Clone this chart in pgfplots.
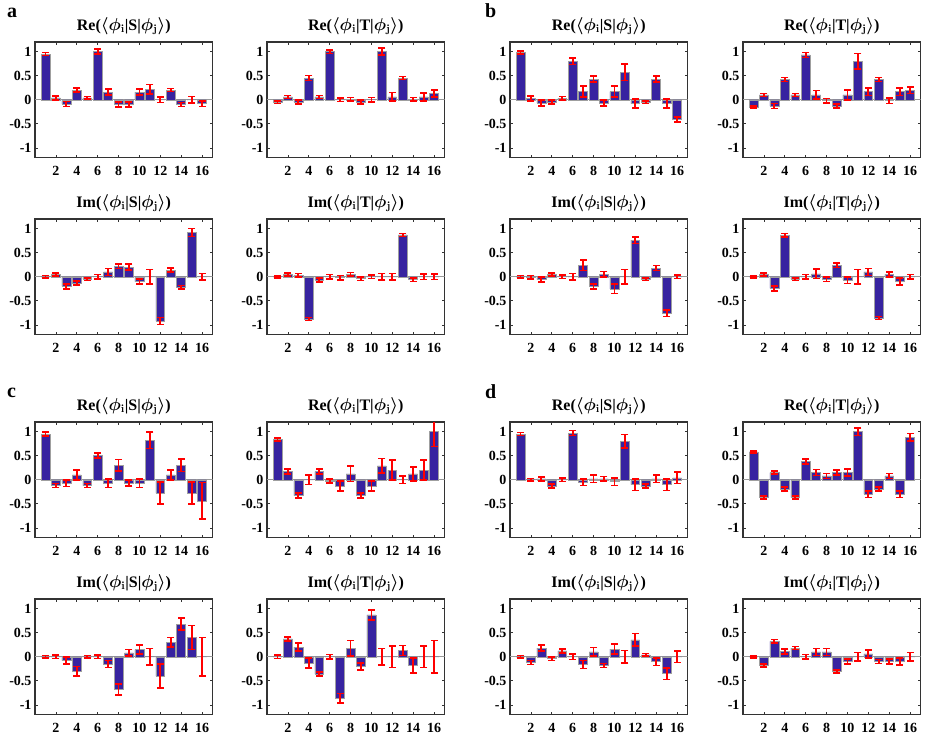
\documentclass[border=0pt]{standalone}
\usepackage{pgfplots}
\usepackage{pgfplotstable}
\pgfplotsset{compat=1.18}
\usepackage{fontspec}
\setmainfont{Liberation Serif}
\definecolor{barblue}{RGB}{55,35,160}
\definecolor{ebred}{RGB}{255,0,0}

\pgfplotstableread{
x y e
1 0.95 0.03
2 0.04 0.04
3 -0.09 0.05
4 0.20 0.04
5 0.04 0.03
6 1.00 0.05
7 0.16 0.06
8 -0.10 0.05
9 -0.10 0.05
10 0.16 0.06
11 0.22 0.10
12 0.00 0.06
13 0.20 0.03
14 -0.10 0.04
15 0.00 0.07
16 -0.08 0.06
}\aReS
\pgfplotstableread{
x y e
1 -0.05 0.03
2 0.06 0.03
3 -0.05 0.04
4 0.45 0.05
5 0.06 0.03
6 1.00 0.04
7 0.00 0.04
8 0.01 0.04
9 -0.05 0.04
10 0.00 0.05
11 1.00 0.07
12 0.06 0.09
13 0.45 0.03
14 0.01 0.04
15 0.06 0.08
16 0.13 0.07
}\aReT
\pgfplotstableread{
x y e
1 0.00 0.03
2 0.05 0.03
3 -0.20 0.05
4 -0.13 0.04
5 -0.05 0.03
6 0.00 0.05
7 0.10 0.07
8 0.22 0.05
9 0.20 0.06
10 -0.10 0.05
11 0.00 0.15
12 -0.92 0.07
13 0.14 0.04
14 -0.22 0.04
15 0.92 0.08
16 0.00 0.07
}\aImS
\pgfplotstableread{
x y e
1 0.00 0.02
2 0.05 0.03
3 0.03 0.04
4 -0.88 0.03
5 -0.07 0.04
6 0.00 0.05
7 -0.02 0.05
8 0.05 0.04
9 -0.04 0.04
10 0.00 0.04
11 0.00 0.07
12 0.00 0.07
13 0.87 0.03
14 -0.06 0.04
15 0.00 0.06
16 0.00 0.06
}\aImT
\pgfplotstableread{
x y e
1 0.98 0.03
2 0.03 0.05
3 -0.07 0.06
4 -0.05 0.04
5 0.03 0.04
6 0.80 0.07
7 0.17 0.11
8 0.43 0.06
9 -0.07 0.06
10 0.17 0.11
11 0.57 0.17
12 -0.08 0.09
13 -0.05 0.03
14 0.43 0.06
15 -0.08 0.09
16 -0.41 0.05
}\bReS
\pgfplotstableread{
x y e
1 -0.15 0.02
2 0.10 0.03
3 -0.13 0.05
4 0.42 0.04
5 0.10 0.03
6 0.93 0.05
7 0.10 0.09
8 -0.02 0.05
9 -0.13 0.04
10 0.10 0.10
11 0.80 0.16
12 0.17 0.08
13 0.42 0.04
14 -0.02 0.06
15 0.17 0.08
16 0.20 0.07
}\bReT
\pgfplotstableread{
x y e
1 0.00 0.03
2 -0.01 0.04
3 -0.06 0.05
4 0.05 0.03
5 0.00 0.04
6 0.00 0.07
7 0.24 0.11
8 -0.20 0.05
9 0.05 0.06
10 -0.25 0.10
11 0.00 0.15
12 0.76 0.07
13 -0.05 0.03
14 0.18 0.05
15 -0.76 0.07
16 0.00 0.04
}\bImS
\pgfplotstableread{
x y e
1 0.00 0.02
2 0.05 0.03
3 -0.24 0.05
4 0.86 0.04
5 -0.05 0.03
6 0.00 0.05
7 0.06 0.10
8 -0.05 0.05
9 0.24 0.05
10 -0.07 0.07
11 0.00 0.15
12 0.10 0.07
13 -0.86 0.03
14 0.05 0.05
15 -0.10 0.07
16 0.00 0.05
}\bImT
\pgfplotstableread{
x y e
1 0.95 0.04
2 -0.12 0.04
3 -0.07 0.07
4 0.10 0.10
5 -0.12 0.04
6 0.50 0.05
7 -0.07 0.09
8 0.30 0.12
9 -0.07 0.06
10 -0.07 0.09
11 0.82 0.17
12 -0.28 0.23
13 0.10 0.10
14 0.30 0.13
15 -0.28 0.23
16 -0.44 0.38
}\cReS
\pgfplotstableread{
x y e
1 0.84 0.03
2 0.17 0.05
3 -0.33 0.05
4 0.00 0.10
5 0.17 0.05
6 -0.03 0.04
7 -0.13 0.10
8 0.12 0.16
9 -0.33 0.05
10 -0.13 0.10
11 0.29 0.15
12 0.20 0.21
13 0.00 0.08
14 0.12 0.15
15 0.20 0.21
16 1.00 0.31
}\cReT
\pgfplotstableread{
x y e
1 0.00 0.03
2 0.00 0.04
3 -0.08 0.07
4 -0.30 0.10
5 0.00 0.03
6 0.00 0.04
7 -0.15 0.07
8 -0.68 0.12
9 0.08 0.07
10 0.15 0.09
11 0.00 0.17
12 -0.40 0.25
13 0.30 0.10
14 0.68 0.13
15 0.40 0.25
16 0.00 0.40
}\cImS
\pgfplotstableread{
x y e
1 0.00 0.04
2 0.37 0.04
3 0.20 0.08
4 -0.13 0.10
5 -0.36 0.04
6 0.00 0.05
7 -0.86 0.10
8 0.18 0.16
9 -0.20 0.07
10 0.87 0.10
11 0.00 0.17
12 0.00 0.22
13 0.13 0.10
14 -0.18 0.16
15 0.00 0.22
16 0.00 0.34
}\cImT
\pgfplotstableread{
x y e
1 0.95 0.03
2 0.00 0.03
3 0.02 0.04
4 -0.13 0.04
5 0.00 0.04
6 0.97 0.05
7 -0.05 0.07
8 0.02 0.08
9 0.02 0.05
10 -0.04 0.08
11 0.80 0.14
12 -0.10 0.12
13 -0.13 0.04
14 0.02 0.08
15 -0.10 0.12
16 0.04 0.12
}\dReS
\pgfplotstableread{
x y e
1 0.58 0.02
2 -0.37 0.03
3 0.15 0.03
4 -0.19 0.04
5 -0.37 0.03
6 0.38 0.05
7 0.15 0.06
8 0.08 0.05
9 0.15 0.05
10 0.15 0.07
11 1.00 0.08
12 -0.30 0.07
13 -0.19 0.04
14 0.08 0.05
15 -0.30 0.07
16 0.88 0.08
}\dReT
\pgfplotstableread{
x y e
1 0.00 0.03
2 -0.12 0.04
3 0.18 0.06
4 -0.04 0.04
5 0.12 0.04
6 0.00 0.06
7 -0.16 0.08
8 0.10 0.09
9 -0.18 0.04
10 0.16 0.10
11 0.00 0.13
12 0.35 0.13
13 0.04 0.03
14 -0.10 0.08
15 -0.35 0.12
16 0.00 0.12
}\dImS
\pgfplotstableread{
x y e
1 0.00 0.02
2 -0.18 0.03
3 0.32 0.04
4 0.11 0.05
5 0.18 0.03
6 0.00 0.05
7 0.10 0.07
8 0.10 0.07
9 -0.31 0.03
10 -0.10 0.05
11 0.00 0.09
12 0.06 0.08
13 -0.10 0.04
14 -0.10 0.05
15 -0.10 0.07
16 0.00 0.09
}\dImT

\pgfplotsset{
  mystyle/.style={
    width=177.5pt, height=115.5pt, scale only axis,
    xmin=0, xmax=17, ymin=-1.2, ymax=1.2,
    xtick={2,4,...,16},
    ytick={-1,-0.5,0,0.5,1},
    yticklabels={-1,-0.5,0,0.5,1},
    tick align=inside, major tick length=3pt,
    axis line style={line width=1.3pt, black!80},
    tick style={line width=0.7pt, black!80},
    ticklabel style={font=\bfseries\fontsize{14}{14}\selectfont},
    /pgf/number format/assume math mode=true,
    xticklabel style={yshift=-5pt},
    title style={font=\bfseries\fontsize{16}{16}\selectfont\boldmath,
      at={(0.5,1)}, anchor=base, yshift=6pt},
  }
}

\newcommand{\Tre}[1]{\textbf{Re(}$\langle\phi_{\mathbf{i}}$\textbf{|#1|}$\phi_{\mathbf{j}}\rangle$\textbf{)}}
\newcommand{\Tim}[1]{\textbf{Im(}$\langle\phi_{\mathbf{i}}$\textbf{|#1|}$\phi_{\mathbf{j}}\rangle$\textbf{)}}

\newcommand{\subplot}[4]{%
\begin{axis}[mystyle, at={(#1pt,-#2pt)}, anchor=north west, title={#3}]
\addplot[gray!80, line width=0.8pt, forget plot] coordinates {(0,0) (17,0)};
\addplot[ybar, bar width=0.85, fill=barblue, draw=gray!75, line width=0.5pt]
  table[x=x, y=y] {#4};
% error bar stems
\addplot[draw=ebred, line width=1.8pt, quiver={u=0, v=2*\thisrow{e}}, mark=none]
  table[x=x, y expr=\thisrow{y}-\thisrow{e}] {#4};
% error bar caps
\addplot[draw=ebred, only marks, mark=-, mark size=3.5pt, mark options={draw=ebred, line width=1.6pt}]
  table[x=x, y expr=\thisrow{y}+\thisrow{e}] {#4};
\addplot[draw=ebred, only marks, mark=-, mark size=3.5pt, mark options={draw=ebred, line width=1.6pt}]
  table[x=x, y expr=\thisrow{y}-\thisrow{e}] {#4};
\end{axis}}

\begin{document}
\begin{tikzpicture}
\useasboundingbox (0,0) rectangle (926pt,-744pt);
\subplot{35}{42}{\Tre{S}}{\aReS}
\subplot{267}{42}{\Tre{T}}{\aReT}
\subplot{35}{219}{\Tim{S}}{\aImS}
\subplot{267}{219}{\Tim{T}}{\aImT}
\subplot{510}{42}{\Tre{S}}{\bReS}
\subplot{743}{42}{\Tre{T}}{\bReT}
\subplot{510}{219}{\Tim{S}}{\bImS}
\subplot{743}{219}{\Tim{T}}{\bImT}
\subplot{35}{422}{\Tre{S}}{\cReS}
\subplot{267}{422}{\Tre{T}}{\cReT}
\subplot{35}{599}{\Tim{S}}{\cImS}
\subplot{267}{599}{\Tim{T}}{\cImT}
\subplot{510}{422}{\Tre{S}}{\dReS}
\subplot{743}{422}{\Tre{T}}{\dReT}
\subplot{510}{599}{\Tim{S}}{\dImS}
\subplot{743}{599}{\Tim{T}}{\dImT}
\node[anchor=base west, font=\bfseries\fontsize{20}{20}\selectfont, inner sep=0pt] at (7pt,-17pt) {a};
\node[anchor=base west, font=\bfseries\fontsize{20}{20}\selectfont, inner sep=0pt] at (485pt,-17pt) {b};
\node[anchor=base west, font=\bfseries\fontsize{20}{20}\selectfont, inner sep=0pt] at (7pt,-397pt) {c};
\node[anchor=base west, font=\bfseries\fontsize{20}{20}\selectfont, inner sep=0pt] at (485pt,-398pt) {d};
\end{tikzpicture}
\end{document}
